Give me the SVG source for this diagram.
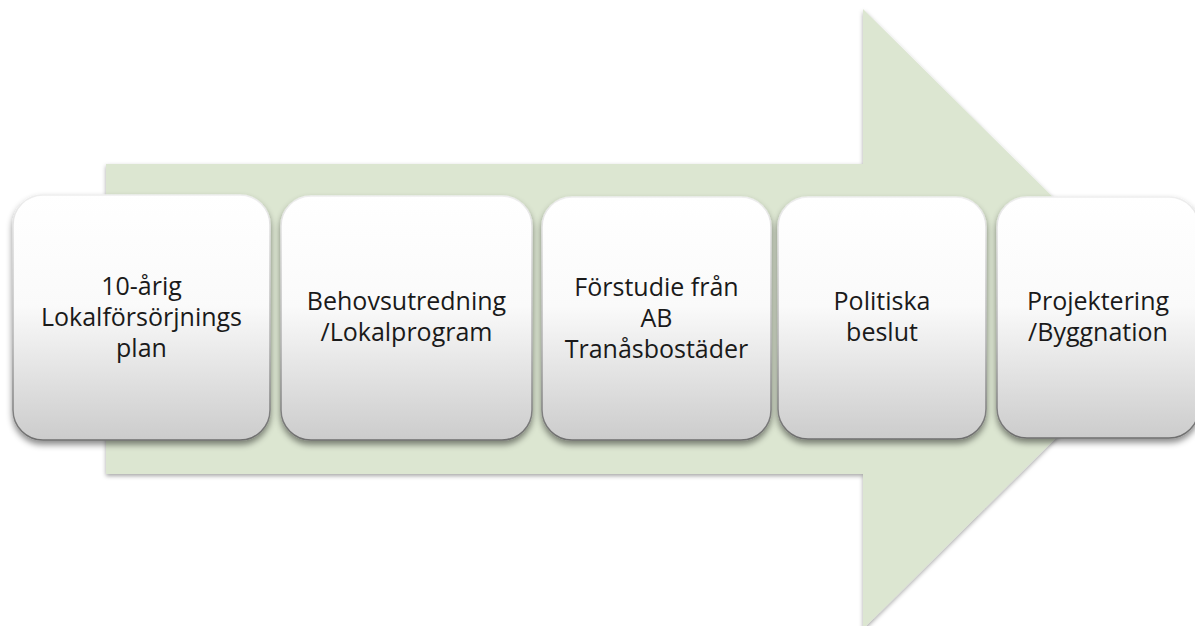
<svg xmlns="http://www.w3.org/2000/svg" width="1195" height="626" viewBox="0 0 1195 626">
  <defs>
    <linearGradient id="boxFill" x1="0" y1="0" x2="0" y2="1">
      <stop offset="0" stop-color="#ffffff"/>
      <stop offset="0.45" stop-color="#fafafa"/>
      <stop offset="1" stop-color="#cccccc"/>
    </linearGradient>
    <linearGradient id="boxEdge" x1="0" y1="0" x2="0" y2="1">
      <stop offset="0" stop-color="#eeeeee"/>
      <stop offset="0.6" stop-color="#b0b0b0"/>
      <stop offset="1" stop-color="#6e6e6e"/>
    </linearGradient>
    <filter id="arrowShadow" x="-5%" y="-5%" width="110%" height="115%">
      <feDropShadow dx="0" dy="2" stdDeviation="2" flood-color="#000000" flood-opacity="0.35"/>
    </filter>
    <filter id="boxShadow" x="-10%" y="-10%" width="120%" height="125%">
      <feDropShadow dx="0" dy="4" stdDeviation="3" flood-color="#000000" flood-opacity="0.45"/>
    </filter>
  </defs>
  <style>
    .box { fill: url(#boxFill); stroke: url(#boxEdge); stroke-width: 1.5; filter: url(#boxShadow); }
    .label { font-family: "Open Sans", Lato, "Liberation Sans", sans-serif; font-size: 25px; fill: #1a1a1a; text-anchor: middle; }
  </style>
  <rect width="1195" height="626" fill="#ffffff"/>

  <g id="arrow">
    <path d="M106,164 L863,164 L863,9 L1176,319 L863,629 L863,474 L106,474 Z" fill="#dce6d1" filter="url(#arrowShadow)"/>
  </g>

  <g id="connectors"></g>

  <g id="node1">
    <rect class="box" x="13" y="195" width="257" height="245" rx="30" ry="30"/>
    <text class="label" x="141.5" y="295">10-årig</text>
    <text class="label" x="141.5" y="326">Lokalförsörjnings</text>
    <text class="label" x="141.5" y="357">plan</text>
  </g>

  <g id="node2">
    <rect class="box" x="281" y="196" width="251" height="244" rx="30" ry="30"/>
    <text class="label" x="406.5" y="310">Behovsutredning</text>
    <text class="label" x="406.5" y="341">/Lokalprogram</text>
  </g>

  <g id="node3">
    <rect class="box" x="542" y="197" width="229" height="243" rx="30" ry="30"/>
    <text class="label" x="656.5" y="296">Förstudie från</text>
    <text class="label" x="656.5" y="327">AB</text>
    <text class="label" x="656.5" y="358">Tranåsbostäder</text>
  </g>

  <g id="node4">
    <rect class="box" x="778" y="197" width="208" height="242" rx="30" ry="30"/>
    <text class="label" x="882" y="310">Politiska</text>
    <text class="label" x="882" y="341">beslut</text>
  </g>

  <g id="node5">
    <rect class="box" x="997" y="197" width="202" height="241" rx="30" ry="30"/>
    <text class="label" x="1098" y="310">Projektering</text>
    <text class="label" x="1098" y="341">/Byggnation</text>
  </g>
</svg>
